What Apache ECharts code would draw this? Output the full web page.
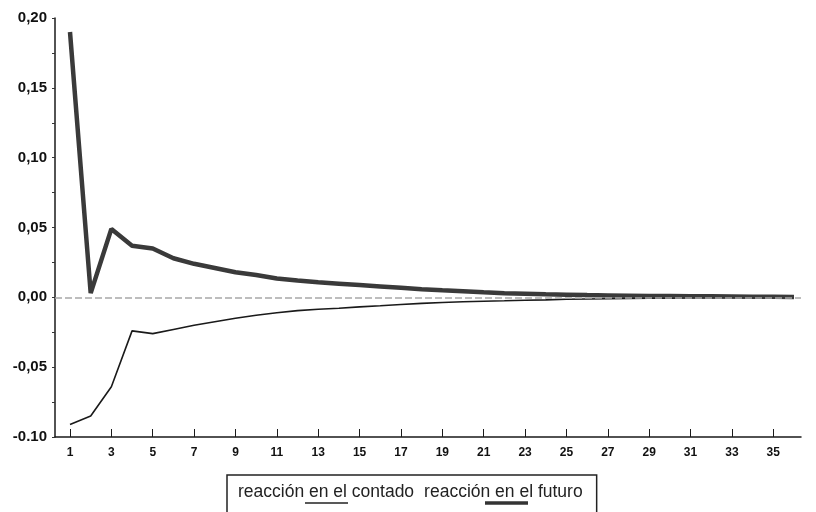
<!DOCTYPE html>
<html>
<head>
<meta charset="utf-8">
<script src="https://cdn.jsdelivr.net/npm/echarts@6/dist/echarts.min.js"></script>
<style>html,body{margin:0;padding:0;background:#fff}#c{width:816px;height:512px}</style>
</head>
<body>
<div id="c"></div>
<script>
const periods = [1,2,3,4,5,6,7,8,9,10,11,12,13,14,15,16,17,18,19,20,21,22,23,24,25,26,27,28,29,30,31,32,33,34,35,36];
const futuro = [0.190,0.003,0.049,0.037,0.035,0.028,0.024,0.021,0.018,0.016,0.0135,0.012,0.0108,0.0098,0.0088,0.0078,0.0068,0.0058,0.005,0.0043,0.0036,0.003,0.0026,0.0022,0.0019,0.0016,0.0014,0.0012,0.001,0.0009,0.0008,0.0007,0.0006,0.0005,0.0004,0.0003];
const contado = [-0.091,-0.085,-0.064,-0.024,-0.026,-0.023,-0.020,-0.0175,-0.015,-0.0128,-0.011,-0.0095,-0.0085,-0.0078,-0.0068,-0.006,-0.0051,-0.0043,-0.0037,-0.0032,-0.0028,-0.0025,-0.0021,-0.0018,-0.0014,-0.0012,-0.001,-0.0008,-0.0007,-0.0006,-0.0005,-0.0004,-0.0003,-0.0003,-0.0002,-0.0002];
const xTickValues = [1,3,5,7,9,11,13,15,17,19,21,23,25,27,29,31,33,35];
const yTickLabels = ['-0.10','-0,05','0,00','0,05','0,10','0,15','0,20'];
const seriesNames = ['reacción en el contado','reacción en el futuro'];

const chart = echarts.init(document.getElementById('c'), null, {renderer:'canvas'});
const font = '"Liberation Sans", Arial, Helvetica, sans-serif';
chart.setOption({
  animation: false,
  backgroundColor: '#ffffff',
  grid: {left: 55, right: 15, top: 18, bottom: 75},
  xAxis: {
    type: 'value',
    min: 0.275,
    max: 36.34,
    axisLine: {onZero: false, lineStyle: {color: '#1a1a1a', width: 1.5}},
    axisTick: {show: true, inside: true, length: 8, customValues: xTickValues, lineStyle: {color: '#1a1a1a', width: 1}},
    axisLabel: {customValues: xTickValues, color: '#111', fontFamily: font, fontSize: 12, fontWeight: 'bold', margin: 10},
    splitLine: {show: false}
  },
  yAxis: {
    type: 'value',
    min: -0.1,
    max: 0.2,
    interval: 0.05,
    axisLine: {show: true, lineStyle: {color: '#1a1a1a', width: 1.5}},
    axisTick: {show: true, length: 3, lineStyle: {color: '#333'}},
    minorTick: {show: true, splitNumber: 2, length: 3, lineStyle: {color: '#333'}},
    axisLabel: {
      color: '#111', fontFamily: font, fontSize: 15, fontWeight: 'bold', margin: 8,
      formatter: v => yTickLabels[Math.round((v + 0.1) / 0.05)]
    },
    splitLine: {show: false}
  },
  legend: {
    data: seriesNames,
    left: 227,
    top: 475,
    orient: 'horizontal',
    itemWidth: 1,
    itemHeight: 1,
    itemGap: 3,
    padding: [7, 14, 30, 4],
    borderColor: '#222',
    borderWidth: 1.5,
    itemStyle: {opacity: 0},
    lineStyle: {opacity: 0},
    textStyle: {fontFamily: font, fontSize: 17.5, color: '#222', lineHeight: 20},
    selectedMode: false
  },
  graphic: [
    {type: 'line', shape: {x1: 305, y1: 503, x2: 348, y2: 503}, style: {stroke: '#222', lineWidth: 1.5}, silent: true},
    {type: 'line', shape: {x1: 485, y1: 503, x2: 528, y2: 503}, style: {stroke: '#333', lineWidth: 3.5}, silent: true}
  ],
  series: [
    {
      name: seriesNames[0],
      type: 'line',
      symbol: 'none',
      data: periods.map((p, i) => [p, contado[i]]),
      lineStyle: {color: '#1a1a1a', width: 1.6},
      itemStyle: {color: '#1a1a1a'},
      markLine: {
        silent: true,
        symbol: 'none',
        label: {show: false},
        lineStyle: {color: '#a8a8a8', type: [7, 3], width: 1.5},
        data: [{yAxis: 0}]
      },
      z: 3
    },
    {
      name: seriesNames[1],
      type: 'line',
      symbol: 'none',
      data: periods.map((p, i) => [p, futuro[i]]),
      lineStyle: {color: '#3a3a3a', width: 4.5},
      itemStyle: {color: '#3a3a3a'},
      z: 4
    }
  ]
});
</script>
</body>
</html>
